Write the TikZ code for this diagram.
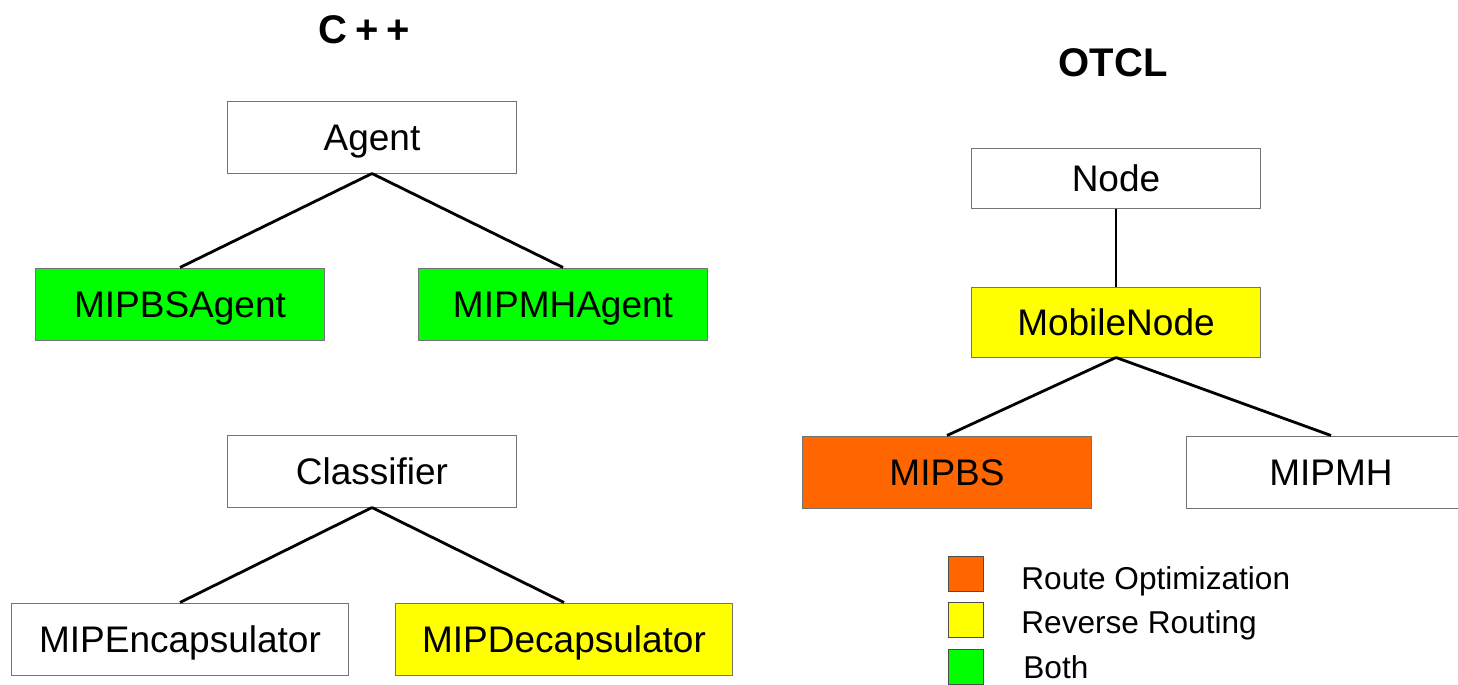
\documentclass[tikz,border=0pt]{standalone}
\usepackage{fontspec}
\setmainfont{Liberation Sans}
\usepackage{tikz}
\usetikzlibrary{positioning}
\usepackage{xcolor}
\definecolor{rogreen}{HTML}{00FF00}
\definecolor{rryellow}{HTML}{FFFF00}
\definecolor{roorange}{HTML}{FF6600}

\begin{document}
\begin{tikzpicture}[
    x=0.5pt, y=-0.5pt,
    box/.style={draw=black!55, line width=0.5pt, inner sep=0pt,
                text height=13.2pt, text depth=0pt,
                minimum width=144.5pt, minimum height=36pt, font=\fontsize{18.5}{20}\selectfont},
    widebox/.style={box, minimum width=168.5pt},
    key/.style={draw=black!70, line width=0.5pt, inner sep=0pt, minimum size=17.5pt},
    keytext/.style={anchor=west, inner sep=0pt, text height=11.4pt, text depth=0pt,
                    font=\fontsize{15.8}{18}\selectfont},
    title/.style={font=\fontsize{20}{22}\selectfont\bfseries},
    link/.style={line width=1.4pt}
  ]
    \clip (0,0) rectangle (1458,685);
    \fill[white] (0,0) rectangle (1458,685);

    % C++ side
    \node[title] (cpp) at (364,30) {C\kern4pt+\kern4pt+};
    \node[box, fill=white]    (agent)  at (372,137) {Agent};
    \node[box, fill=rogreen]  (bsagent) at (180,304) {MIPBSAgent};
    \node[box, fill=rogreen]  (mhagent) at (563,304) {MIPMHAgent};
    \draw[link] (agent.south) -- (bsagent.north);
    \draw[link] (agent.south) -- (mhagent.north);

    \node[box, fill=white]       (classifier) at (372,471) {Classifier};
    \node[widebox, fill=white]   (encap) at (180,639) {MIPEncapsulator};
    \node[widebox, fill=rryellow] (decap) at (564,639) {MIPDecapsulator};
    \draw[link] (classifier.south) -- (encap.north);
    \draw[link] (classifier.south) -- (decap.north);

    % OTCL side
    \node[title] (otcl) at (1113,63) {OTCL};
    \node[box, fill=white, minimum height=30pt] (node) at (1116,178) {Node};
    \node[box, fill=rryellow, minimum height=35pt] (mobile) at (1116,322) {MobileNode};
    \node[box, fill=roorange] (mipbs) at (947,472) {MIPBS};
    \node[box, fill=white]    (mipmh) at (1331,472) {MIPMH};
    \draw[link] (node.south) -- (mobile.north);
    \draw[link] (mobile.south) -- (mipbs.north);
    \draw[link] (mobile.south) -- (mipmh.north);

    % legend
    \node[key, fill=roorange] (keyro) at (966,574) {};
    \node[key, fill=rryellow] (keyrr) at (966,620) {};
    \node[key, fill=rogreen]  (keyboth) at (966,667) {};
    \node[keytext] (txtro) at (1021,578) {Route Optimization};
    \node[keytext] (txtrr) at (1021,622) {Reverse Routing};
    \node[keytext] (txtboth) at (1023,667) {Both};
\end{tikzpicture}
\end{document}
